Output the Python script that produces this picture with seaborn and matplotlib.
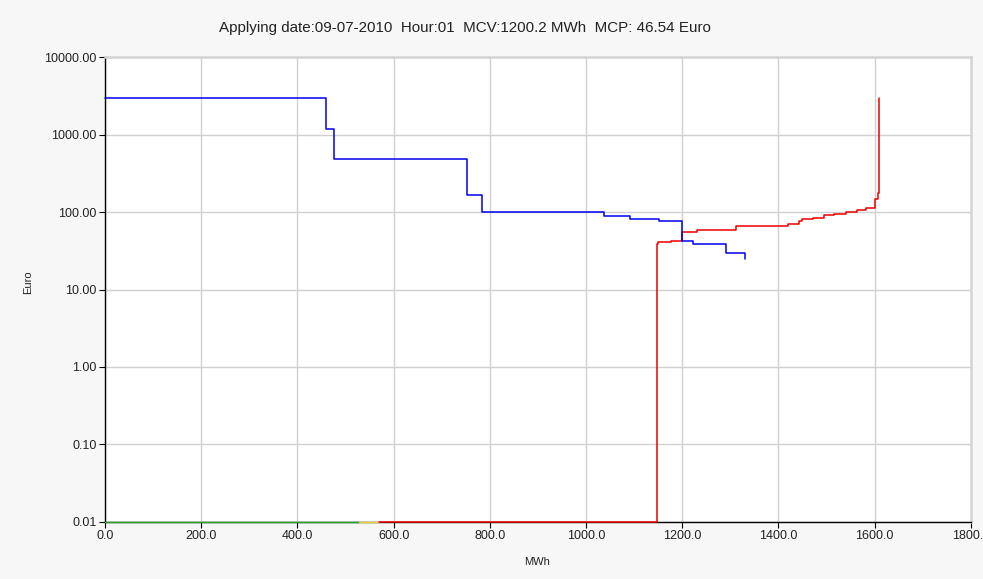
import matplotlib
matplotlib.use("Agg")
import matplotlib.pyplot as plt
import seaborn as sns
import pandas as pd
from matplotlib.ticker import FixedLocator, FuncFormatter, NullLocator

# Demand (blue) step curve
demand_mwh = [0, 460, 476, 753, 784, 1038, 1091, 1151, 1200, 1223, 1291, 1330]
demand_eur = [3000, 1200, 490, 167, 100, 88, 82, 76, 42, 38.5, 30, 25]

# Supply (red) step curve
supply_mwh = [570, 1148, 1149, 1176, 1200, 1231, 1311, 1420, 1444, 1450, 1473,
              1496, 1515, 1541, 1564, 1582, 1602, 1607, 1609.5]
supply_eur = [0.01, 39, 40.5, 42.5, 55, 59, 67, 70.6, 76.4, 81, 85,
              91, 95, 100, 108, 112, 148, 174, 3000]

# Bottom segments at the floor price
green_mwh = [0, 528]
green_eur = [0.01, 0.01]
yellow_mwh = [528, 570]
yellow_eur = [0.01, 0.01]

x_ticks = [0, 200, 400, 600, 800, 1000, 1200, 1400, 1600, 1800]
y_ticks = [0.01, 0.1, 1, 10, 100, 1000, 10000]

title = "Applying date:09-07-2010  Hour:01  MCV:1200.2 MWh  MCP: 46.54 Euro"

sns.set_theme(style="white")
plt.rcParams['font.family'] = ['Liberation Sans', 'DejaVu Sans']

fig = plt.figure(figsize=(9.83, 5.79), dpi=100, facecolor="#f7f7f7")
ax = fig.add_axes([105 / 983, 1 - 521.7 / 579, (970.7 - 105) / 983, (521.7 - 57.3) / 579])
ax.set_facecolor("white")

common = dict(estimator=None, sort=False, drawstyle="steps-post", ax=ax,
              legend=False, clip_on=False, zorder=3)
sns.lineplot(x=green_mwh, y=green_eur, color="#2ca02c", linewidth=1.0, **common)
sns.lineplot(x=yellow_mwh, y=yellow_eur, color="#e8d23a", linewidth=1.0, **common)
sns.lineplot(x=supply_mwh, y=supply_eur, color="#ee0000", linewidth=1.1, **common)
sns.lineplot(x=demand_mwh, y=demand_eur, color="#0000ee", linewidth=1.1, **common)

ax.set_yscale("log")
ax.set_xlim(0, 1800)
ax.set_ylim(0.01, 10000)
ax.xaxis.set_major_locator(FixedLocator(x_ticks))
ax.yaxis.set_major_locator(FixedLocator(y_ticks))
ax.yaxis.set_minor_locator(NullLocator())
ax.xaxis.set_major_formatter(FuncFormatter(lambda v, p: f"{v:.1f}"))
ax.yaxis.set_major_formatter(FuncFormatter(lambda v, p: f"{v:.2f}"))
ax.grid(True, color="#d0d0d0", linewidth=1.0)
ax.set_axisbelow(True)
ax.tick_params(axis="both", which="major", direction="out", length=4, width=0.8,
               color="black", labelsize=9, labelcolor="#222222", pad=2,
               bottom=True, left=True)

for s in ["left", "bottom"]:
    ax.spines[s].set_color("black")
    ax.spines[s].set_linewidth(1.0)
for s in ["top", "right"]:
    ax.spines[s].set_color("#d4d4d4")
    ax.spines[s].set_linewidth(1.8)

ax.set_xlabel("")
ax.set_ylabel("")
fig.text(537 / 983, 1 - 562 / 579, "MWh", ha="center", va="center", fontsize=8, color="#222222")
fig.text(28 / 983, 1 - 282 / 579, "Euro", ha="center", va="center", rotation=90,
         fontsize=8, color="#222222")
fig.text(465 / 983, 1 - 28 / 579, title, ha="center", va="center", fontsize=10.9,
         color="#222222")

fig.savefig("out.png", dpi=100, facecolor=fig.get_facecolor())
